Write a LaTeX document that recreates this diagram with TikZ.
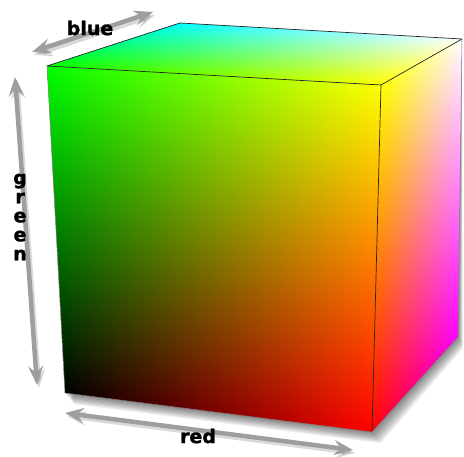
\documentclass[tikz,border=0pt]{standalone}
\usepackage{fontspec}
\setsansfont{DejaVu Sans}
\newfontfamily\labelfont[BoldFeatures={FakeBold=1.5}]{DejaVu Sans}
\usetikzlibrary{arrows.meta}

% bilinear point inside the face with corners a (top left), b, c, d
\newcommand\bl[2]{({(1-#2)*((1-#1)*\ax+#1*\bx)+#2*((1-#1)*\dx+#1*\cx)},{(1-#2)*((1-#1)*\ay+#1*\by)+#2*((1-#1)*\dy+#1*\cy)})}
\newcommand\setcorners[8]{\def\ax{#1}\def\ay{#2}\def\bx{#3}\def\by{#4}\def\cx{#5}\def\cy{#6}\def\dx{#7}\def\dy{#8}}
\newcommand\strips{60}

\begin{document}
\begin{tikzpicture}[
    x=1pt, y=-1pt,
    edge/.style={draw=black!85, line width=0.7pt, line join=round},
    axis/.style={<->, >={Stealth[length=19pt, width=15pt, inset=7pt]}, draw=black!38, line width=4.5pt},
    axisshadow/.style={axis, draw=black, opacity=0.15},
    label/.style={font=\labelfont\bfseries\fontsize{19}{19}\selectfont, text=black, inner sep=0pt, align=center}
]
    \useasboundingbox (0,0) rectangle (464,457);

    % corners of the cube
    \coordinate (ftl) at (47,66);
    \coordinate (ftr) at (381,85);
    \coordinate (fbr) at (372,432);
    \coordinate (fbl) at (65,393);
    \coordinate (btl) at (180,23);
    \coordinate (btr) at (462,39);
    \coordinate (bbr) at (458,337);

    % soft shadow
    \foreach \k in {1,...,8}
        \fill[black, opacity=0.07] ([shift={(\k*1.1,\k*1.4)}]fbl) -- ([shift={(\k*1.1,\k*1.4)}]fbr)
            -- ([shift={(\k*0.6,\k*1.4)}]bbr) -- (btr) -- (ftl) -- cycle;

    % front face: red to the right, green to the top
    \setcorners{47}{66}{381}{85}{372}{432}{65}{393}
    \begin{scope}
        \clip (ftl) -- (ftr) -- (fbr) -- (fbl) -- cycle;
        \foreach \i in {1,...,\strips}{
            \pgfmathsetmacro\ua{(\i-1)/\strips}\pgfmathsetmacro\ub{(\i+0.6)/\strips}\pgfmathsetmacro\cu{(\i-0.5)/\strips}
            \definecolor{ctop}{rgb}{\cu,1,0}\definecolor{cbot}{rgb}{\cu,0,0}
            \shade[top color=ctop, bottom color=cbot] \bl{\ua}{0} -- \bl{\ub}{0} -- \bl{\ub}{1} -- \bl{\ua}{1} -- cycle;
        }
    \end{scope}

    % top face: blue to the back
    \setcorners{180}{23}{462}{39}{381}{85}{47}{66}
    \begin{scope}
        \clip (btl) -- (btr) -- (ftr) -- (ftl) -- cycle;
        \foreach \j in {1,...,\strips}{
            \pgfmathsetmacro\va{(\j-1)/\strips}\pgfmathsetmacro\vb{(\j+0.6)/\strips}\pgfmathsetmacro\cv{(\j-0.5)/\strips}
            \pgfmathsetmacro\colb{1-\cv}
            \definecolor{cleft}{rgb}{0,1,\colb}\definecolor{cright}{rgb}{1,1,\colb}
            \shade[left color=cleft, right color=cright] \bl{0}{\va} -- \bl{1}{\va} -- \bl{1}{\vb} -- \bl{0}{\vb} -- cycle;
        }
    \end{scope}

    % right face
    \setcorners{381}{85}{462}{39}{458}{337}{372}{432}
    \begin{scope}
        \clip (ftr) -- (btr) -- (bbr) -- (fbr) -- cycle;
        \foreach \i in {1,...,\strips}{
            \pgfmathsetmacro\ua{(\i-1)/\strips}\pgfmathsetmacro\ub{(\i+0.6)/\strips}\pgfmathsetmacro\cu{(\i-0.5)/\strips}
            \definecolor{ctop}{rgb}{1,1,\cu}\definecolor{cbot}{rgb}{1,0,\cu}
            \shade[top color=ctop, bottom color=cbot] \bl{\ua}{0} -- \bl{\ub}{0} -- \bl{\ub}{1} -- \bl{\ua}{1} -- cycle;
        }
    \end{scope}

    % edges
    \draw[edge] (ftl) -- (btl) -- (btr) -- (ftr) -- cycle;
    \draw[edge] (ftr) -- (fbr);
    \draw[edge, draw=black!50, line width=0.5pt] (btr) -- (bbr) -- (fbr) -- (fbl) -- (ftl);

    % axes
    \coordinate (blueA) at (32,52);
    \coordinate (blueB) at (153,12);
    \coordinate (greenA) at (15,77);
    \coordinate (greenB) at (37,385);
    \coordinate (redA) at (65,413);
    \coordinate (redB) at (353,450);

    \draw[axisshadow] ([shift={(2,3)}]blueA) -- ([shift={(2,3)}]blueB);
    \draw[axisshadow] ([shift={(2,3)}]greenA) -- ([shift={(2,3)}]greenB);
    \draw[axisshadow] ([shift={(2,3)}]redA) -- ([shift={(2,3)}]redB);
    \draw[axis] (blueA) -- (blueB);
    \draw[axis] (greenA) -- (greenB);
    \draw[axis] (redA) -- (redB);

    % labels
    \node[label] (blue) at (90,28) {blue};
    \node[label] (green) at (20,217) {g\\r\\e\\e\\n};
    \node[label] (red) at (198,436) {red};
\end{tikzpicture}
\end{document}
